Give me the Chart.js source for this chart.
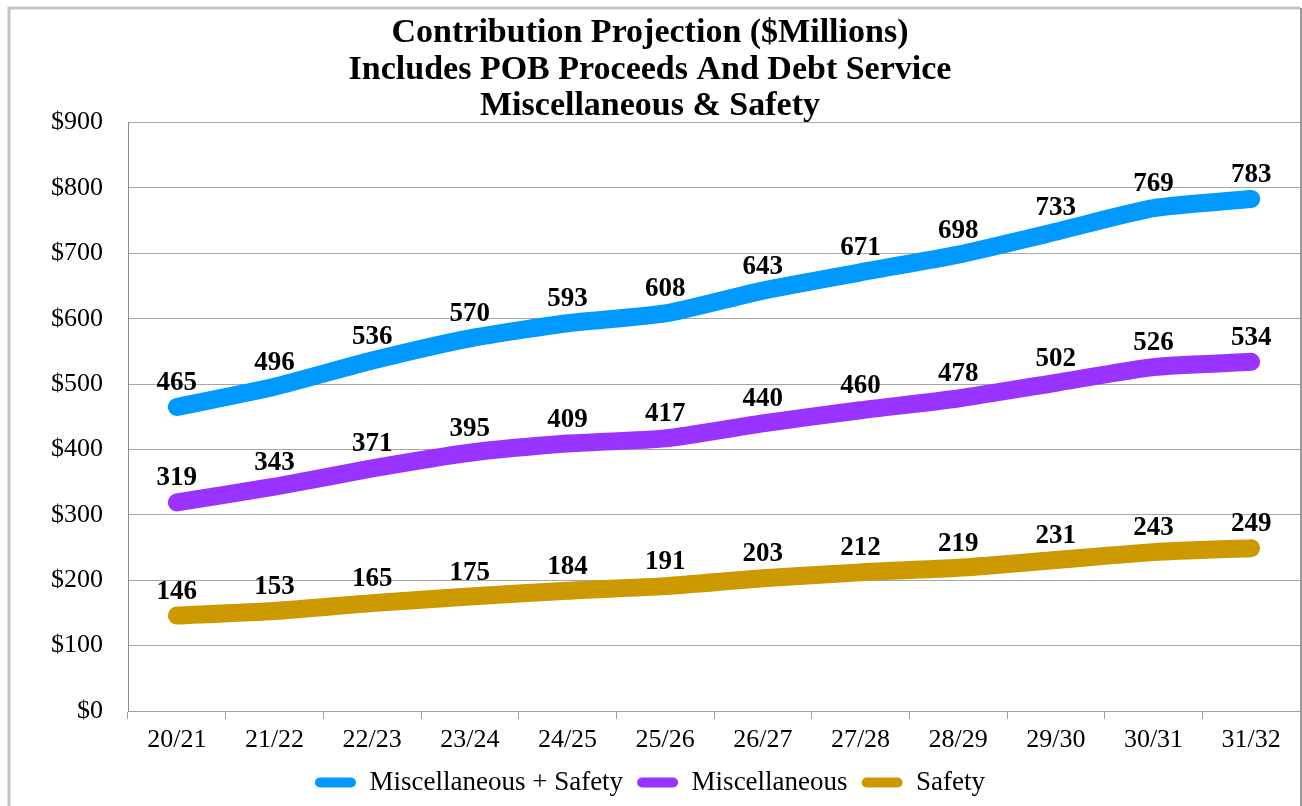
<!DOCTYPE html>
<html lang="en">
<head>
  <meta charset="UTF-8">
  <title>Contribution Projection</title>
  <script src="https://cdn.jsdelivr.net/npm/chart.js"></script>
  <style>
    body { margin: 0; background: #fff; }
    #wrap { width: 1302px; height: 806px; position: relative; }
  </style>
</head>
<body>
  <div id="wrap"><canvas id="myChart" width="1302" height="806"></canvas></div>

  <script>
    // chart data
    var years = ['20/21', '21/22', '22/23', '23/24', '24/25', '25/26', '26/27', '27/28', '28/29', '29/30', '30/31', '31/32'];
    var miscSafety = [465, 496, 536, 570, 593, 608, 643, 671, 698, 733, 769, 783];
    var misc = [319, 343, 371, 395, 409, 417, 440, 460, 478, 502, 526, 534];
    var safety = [146, 153, 165, 175, 184, 191, 203, 212, 219, 231, 243, 249];
    var yTicks = [0, 100, 200, 300, 400, 500, 600, 700, 800, 900];

    var serif = '"Liberation Serif", "Times New Roman", serif';

    // grey frame round the whole chart
    var framePlugin = {
      id: 'frame',
      beforeDraw: function (chart) {
        var c = chart.ctx;
        c.save();
        c.fillStyle = '#fff';
        c.fillRect(0, 0, chart.width, chart.height);
        c.strokeStyle = '#c4c4c4';
        c.lineWidth = 3;
        c.beginPath();
        c.moveTo(9, chart.height + 5);
        c.lineTo(9, 8);
        c.lineTo(1300, 8);
        c.stroke();
        c.strokeStyle = '#999';
        c.lineWidth = 2;
        c.beginPath();
        c.moveTo(1301, 8);
        c.lineTo(1301, chart.height + 5);
        c.stroke();
        c.restore();
      }
    };

    // bold value labels above each point
    var valueLabels = {
      id: 'valueLabels',
      afterDatasetsDraw: function (chart) {
        var c = chart.ctx;
        c.save();
        c.font = 'bold 27px ' + serif;
        c.fillStyle = '#000';
        c.textAlign = 'center';
        c.textBaseline = 'middle';
        chart.data.datasets.forEach(function (ds, i) {
          chart.getDatasetMeta(i).data.forEach(function (pt, j) {
            c.fillText(ds.data[j], pt.x, pt.y - 24);
          });
        });
        c.restore();
      }
    };

    function lineSet(label, values, color) {
      return {
        label: label,
        data: values,
        borderColor: color,
        backgroundColor: color,
        borderWidth: 18,
        borderCapStyle: 'round',
        borderJoinStyle: 'round',
        pointRadius: 0,
        pointHoverRadius: 0,
        tension: 0.2,
        fill: false
      };
    }

    var ctx = document.getElementById('myChart').getContext('2d');

    var myChart = new Chart(ctx, {
      type: 'line',
      data: {
        labels: years,
        datasets: [
          lineSet('Miscellaneous + Safety', miscSafety, '#0099ff'),
          lineSet('Miscellaneous', misc, '#9933ff'),
          lineSet('Safety', safety, '#cc9900')
        ]
      },
      plugins: [framePlugin, valueLabels],
      options: {
        responsive: false,
        animation: false,
        layout: { padding: { left: 0, right: 2, top: 0, bottom: 0 } },
        scales: {
          x: {
            offset: true,
            grid: {
              offset: true,
              drawOnChartArea: false,
              drawTicks: true,
              tickLength: 8,
              color: '#a0a0a0'
            },
            border: { color: '#a0a0a0' },
            ticks: {
              color: '#000',
              padding: 6,
              maxRotation: 0,
              font: { family: serif, size: 26 }
            },
            afterFit: function (scale) { scale.height = 44; }
          },
          y: {
            min: 0,
            max: 900,
            afterBuildTicks: function (scale) {
              scale.ticks = yTicks.map(function (v) { return { value: v }; });
            },
            grid: { color: '#a6a6a6', drawTicks: false },
            border: { color: '#8c8c8c' },
            ticks: {
              color: '#000',
              padding: 25,
              font: { family: serif, size: 26 },
              callback: function (v) { return '$' + v; }
            },
            afterFit: function (scale) { scale.width = 128; }
          }
        },
        plugins: {
          title: {
            display: true,
            text: ['Contribution Projection ($Millions)', 'Includes POB Proceeds And Debt Service', 'Miscellaneous & Safety'],
            color: '#000',
            font: { family: serif, size: 34, weight: 'bold', lineHeight: 1.074 },
            padding: { top: 15, bottom: -2 }
          },
          legend: {
            position: 'bottom',
            labels: {
              color: '#000',
              font: { family: serif, size: 27 },
              boxWidth: 41,
              boxHeight: 10,
              useBorderRadius: true,
              borderRadius: 5,
              padding: 14,
              generateLabels: function (chart) {
                return chart.data.datasets.map(function (ds, i) {
                  return {
                    text: ds.label,
                    fillStyle: ds.borderColor,
                    strokeStyle: ds.borderColor,
                    lineWidth: 0,
                    borderRadius: 5,
                    fontColor: '#000',
                    datasetIndex: i
                  };
                });
              }
            }
          },
          tooltip: { enabled: false }
        }
      }
    });
  </script>
</body>
</html>
